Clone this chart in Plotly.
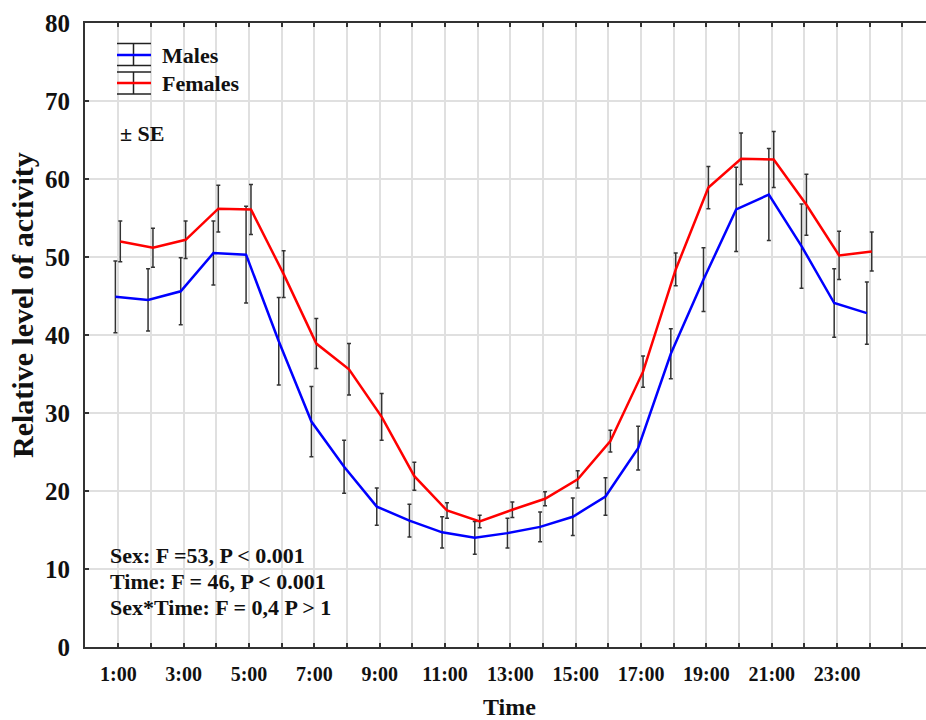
import plotly.graph_objects as go

hours = list(range(1, 25))
tick_hours = list(range(1, 26))
tick_labels = [f"{h}:00" if (h % 2 == 1 and h <= 23) else "" for h in tick_hours]
y_ticks = [0, 10, 20, 30, 40, 50, 60, 70, 80]

males = [44.9, 44.5, 45.6, 50.5, 50.3, 39.2, 28.9, 23.1, 18.0, 16.2, 14.7, 14.0,
         14.6, 15.4, 16.7, 19.3, 25.5, 37.6, 47.1, 56.1, 58.0, 51.4, 44.1, 42.8]
males_se = [4.6, 4.0, 4.3, 4.1, 6.2, 5.6, 4.5, 3.4, 2.4, 2.1, 2.0, 2.1,
            1.9, 1.9, 2.4, 2.4, 2.8, 3.2, 4.1, 5.4, 5.9, 5.4, 4.4, 4.0]
females = [52.0, 51.2, 52.2, 56.2, 56.1, 47.8, 38.9, 35.6, 29.5, 21.9, 17.5, 16.1,
           17.6, 19.0, 21.5, 26.4, 35.3, 48.4, 58.9, 62.6, 62.5, 56.7, 50.2, 50.7]
females_se = [2.6, 2.5, 2.4, 3.0, 3.2, 3.0, 3.2, 3.3, 3.0, 1.8, 1.0, 0.8,
              1.0, 0.9, 1.1, 1.4, 2.0, 2.1, 2.7, 3.3, 3.6, 3.9, 3.1, 2.5]

stats_lines = ["Sex: F =53, P < 0.001", "Time: F = 46, P < 0.001", "Sex*Time: F = 0,4 P > 1"]

FONT = "Liberation Serif"
W, H = 926, 720
ML, MR, MT, MB = 85, 0, 23, 73
PW, PH = W - ML - MR, H - MT - MB


def px(x):
    return (x - ML) / PW


def py(y):
    return (H - MB - y) / PH


fig = go.Figure()
fig.add_trace(go.Scatter(
    x=[h - 0.09 for h in hours], y=males, mode="lines", name="Males",
    line=dict(color="#0000ff", width=2.5),
    error_y=dict(type="data", array=males_se, visible=True, color="#333333", thickness=1.5, width=2),
))
fig.add_trace(go.Scatter(
    x=[h + 0.06 for h in hours], y=females, mode="lines", name="Females",
    line=dict(color="#ff0000", width=2.5),
    error_y=dict(type="data", array=females_se, visible=True, color="#333333", thickness=1.5, width=2),
))

shapes = []
annotations = []
# legend glyphs
for (cy, top, bot, color, label) in [(55, 43.5, 65.5, "#0000ff", "Males"), (83, 72, 94, "#ff0000", "Females")]:
    for yy in (top, bot):
        shapes.append(dict(type="line", xref="paper", yref="paper", x0=px(117), x1=px(151),
                           y0=py(yy), y1=py(yy), line=dict(color="#222222", width=1.5)))
    shapes.append(dict(type="line", xref="paper", yref="paper", x0=px(133.5), x1=px(133.5),
                       y0=py(top), y1=py(bot), line=dict(color="#222222", width=1.5)))
    shapes.append(dict(type="line", xref="paper", yref="paper", x0=px(117), x1=px(151),
                       y0=py(cy), y1=py(cy), line=dict(color=color, width=2.5)))
    annotations.append(dict(text=label, xref="paper", yref="paper", x=px(160), y=py(cy),
                            xanchor="left", yanchor="middle", showarrow=False,
                            font=dict(family=FONT, size=22, color="#111111", weight="bold")))

annotations.append(dict(text="± SE", xref="paper", yref="paper", x=px(118), y=py(133),
                        xanchor="left", yanchor="middle", showarrow=False,
                        font=dict(family=FONT, size=22, color="#111111", weight="bold")))
for i, t in enumerate(stats_lines):
    annotations.append(dict(text=t, xref="paper", yref="paper", x=px(108), y=py(555 + 26 * i),
                            xanchor="left", yanchor="middle", showarrow=False,
                            font=dict(family=FONT, size=22, color="#111111", weight="bold")))

annotations.append(dict(text="Time", xref="paper", yref="paper", x=px(510), y=py(707),
                        xanchor="center", yanchor="middle", showarrow=False,
                        font=dict(family=FONT, size=24, color="#111111", weight="bold")))
annotations.append(dict(text="Relative level of activity", xref="paper", yref="paper", x=px(23), y=py(305),
                        xanchor="center", yanchor="middle", showarrow=False, textangle=-90,
                        font=dict(family=FONT, size=30, color="#111111", weight="bold")))

fig.update_layout(
    width=W, height=H,
    margin=dict(l=ML, r=MR, t=MT, b=MB),
    paper_bgcolor="white", plot_bgcolor="white",
    showlegend=False,
    shapes=shapes, annotations=annotations,
    xaxis=dict(range=[-0.02, 25.72], tickmode="array", tickvals=tick_hours, ticktext=tick_labels,
               showgrid=True, gridcolor="#e0e0e0", gridwidth=1.5,
               showline=True, linecolor="#333333", linewidth=2, mirror="allticks",
               ticks="inside", ticklen=4, tickcolor="#333333", tickwidth=1.5,
               ticklabelstandoff=8, zeroline=False,
               tickfont=dict(family=FONT, size=20, color="#111111", weight="bold")),
    yaxis=dict(range=[0, 80], tickmode="array", tickvals=y_ticks,
               showgrid=True, gridcolor="#e0e0e0", gridwidth=1.5,
               showline=True, linecolor="#333333", linewidth=2, mirror=False,
               ticks="inside", ticklen=4, tickcolor="#333333", tickwidth=1.5,
               ticklabelstandoff=8, zeroline=False,
               tickfont=dict(family=FONT, size=25, color="#111111", weight="bold")),
)

fig.write_html("out.html")
